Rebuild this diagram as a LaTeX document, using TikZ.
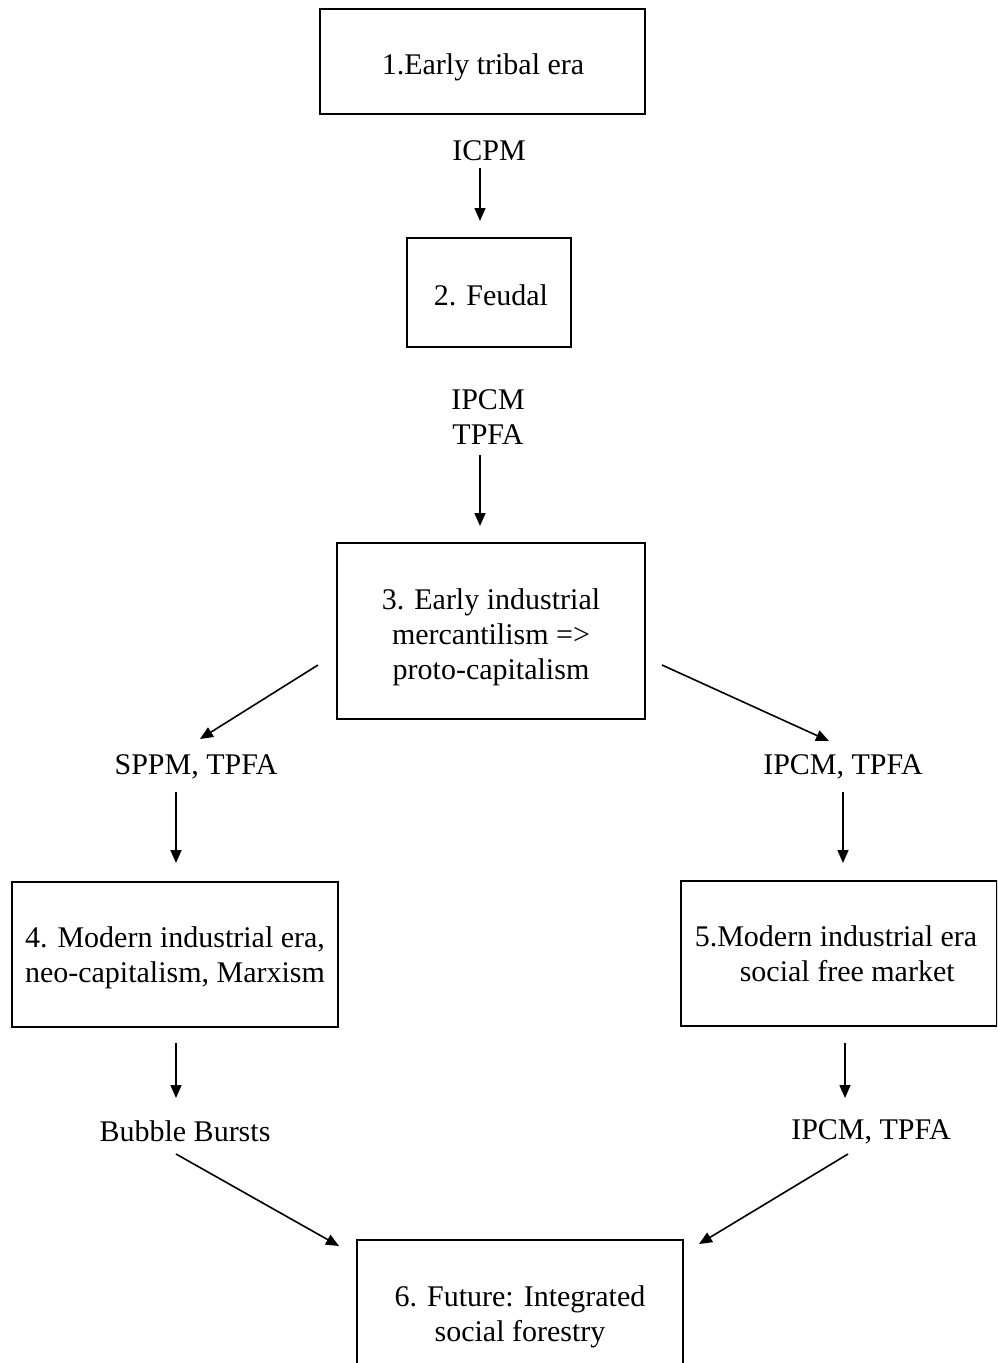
\documentclass[tikz,border=0pt]{standalone}
\usepackage{fontspec}
\setmainfont{Liberation Serif}
\usetikzlibrary{arrows.meta}
\begin{document}
\begin{tikzpicture}[x=1pt,y=-1pt,
  box/.style={draw,line width=2pt,rectangle,inner sep=0pt},
  lbl/.style={inner sep=1pt,align=center},
  arr/.style={line width=1.6pt,-{Triangle[length=13pt,width=11pt]}},
  every node/.style={font=\fontsize{30}{35}\selectfont}]
\useasboundingbox (0,0) rectangle (997,1363);
\clip (0,0) rectangle (997,1363);
\node[box,minimum width=325pt,minimum height=105pt] (b1) at (482.5,61.5) {};
\node[lbl] (t1) at (483,67) {1.Early tribal era};
\node[box,minimum width=164pt,minimum height=109pt] (b2) at (489,292.5) {};
\node[lbl] (t2) at (491,295) {2. Feudal};
\node[box,minimum width=308pt,minimum height=176pt] (b3) at (491,631) {};
\node[lbl] (t3) at (491,637) {3. Early industrial\\mercantilism =>\\proto-capitalism};
\node[box,minimum width=326pt,minimum height=145pt] (b4) at (175,954.5) {};
\node[lbl] (t4) at (175,958) {4. Modern industrial era,\\neo-capitalism, Marxism};
\node[box,minimum width=316pt,minimum height=145pt] (b5) at (839,953.5) {};
\node[lbl] (t5) at (836,954) {5.Modern industrial era\\\phantom{5.}social free market};
\node[box,minimum width=326pt,minimum height=148pt] (b6) at (520,1314) {};
\node[lbl] (t6) at (520,1317) {6. Future: Integrated\\social forestry};

\node[lbl] (l1) at (489,151) {ICPM};
\node[lbl] (l2) at (488,417) {IPCM\\TPFA};
\node[lbl] (l3) at (196,767) {SPPM, TPFA};
\node[lbl] (l4) at (843,767) {IPCM, TPFA};
\node[lbl] (l5) at (185,1131) {Bubble Bursts};
\node[lbl] (l6) at (871,1132) {IPCM, TPFA};

\coordinate (a1s) at (480,168); \coordinate (a1e) at (480,221);
\coordinate (a2s) at (480,455); \coordinate (a2e) at (480,526);
\coordinate (a3s) at (318,665); \coordinate (a3e) at (200,739);
\coordinate (a4s) at (662,665); \coordinate (a4e) at (829,741);
\coordinate (a5s) at (176,792); \coordinate (a5e) at (176,863);
\coordinate (a6s) at (843,792); \coordinate (a6e) at (843,863);
\coordinate (a7s) at (176,1043); \coordinate (a7e) at (176,1098);
\coordinate (a8s) at (845,1043); \coordinate (a8e) at (845,1098);
\coordinate (a9s) at (176,1154); \coordinate (a9e) at (339,1246);
\coordinate (a10s) at (848,1154); \coordinate (a10e) at (699,1244);

\draw[arr] (a1s) -- (a1e);
\draw[arr] (a2s) -- (a2e);
\draw[arr] (a3s) -- (a3e);
\draw[arr] (a4s) -- (a4e);
\draw[arr] (a5s) -- (a5e);
\draw[arr] (a6s) -- (a6e);
\draw[arr] (a7s) -- (a7e);
\draw[arr] (a8s) -- (a8e);
\draw[arr] (a9s) -- (a9e);
\draw[arr] (a10s) -- (a10e);
\end{tikzpicture}
\end{document}
